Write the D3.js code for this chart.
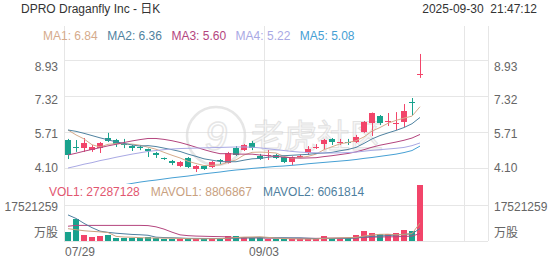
<!DOCTYPE html>
<html>
<head>
<meta charset="utf-8">
<script src="https://cdn.jsdelivr.net/npm/d3@7"></script>
<style>
  body { margin: 0; background: #fff; }
  svg { display: block; font-family: Arial, "Liberation Sans", "Noto Sans CJK SC", sans-serif; }
</style>
</head>
<body>
<div id="chart"></div>
<script>
// daily candles 07/29 .. 09/30
const dates = ["07/29","07/30","07/31","08/01","08/04","08/05","08/06","08/07","08/08","08/11",
  "08/12","08/13","08/14","08/15","08/18","08/19","08/20","08/21","08/22","08/25",
  "08/26","08/27","08/28","08/29","09/02","09/03","09/04","09/05","09/08","09/09",
  "09/10","09/11","09/12","09/15","09/16","09/17","09/18","09/19","09/22","09/23",
  "09/24","09/25","09/26","09/29","09/30"];
const opens = [5.35,5.06,4.99,4.90,4.99,5.44,5.35,5.18,5.08,5.04,4.95,4.77,4.55,4.41,4.19,4.55,4.05,4.19,4.14,4.45,
  4.32,4.99,4.90,5.22,4.64,4.66,4.68,4.59,4.37,4.63,4.77,5.03,5.17,5.40,5.25,5.27,5.26,5.71,6.11,6.43,
  6.18,6.10,6.16,7.03,8.28];
const highs = [5.40,5.35,5.44,5.13,5.26,5.67,5.40,5.40,5.13,5.13,4.97,4.82,4.57,4.46,4.41,4.59,4.23,4.21,4.41,4.50,
  4.82,5.08,5.17,5.31,4.73,4.90,4.73,4.62,4.62,4.70,5.08,5.17,5.40,5.44,5.40,5.40,5.58,6.20,6.58,6.47,
  6.56,6.60,6.96,7.23,9.20];
const lows = [4.50,4.82,4.82,4.82,4.77,5.26,5.04,4.99,4.86,4.90,4.59,4.55,4.46,4.23,4.14,4.10,3.92,4.01,4.10,4.28,
  4.30,4.64,4.86,4.90,4.46,4.46,4.50,4.32,4.23,4.57,4.68,4.95,4.90,5.13,5.13,5.13,5.22,5.67,5.53,6.02,
  5.98,5.80,5.93,6.47,8.13];
const closes = [4.68,5.03,5.22,5.04,5.22,5.31,5.17,5.16,4.99,4.99,4.86,4.68,4.50,4.32,4.37,4.14,4.19,4.05,4.37,4.43,
  4.77,4.68,5.13,4.99,4.50,4.68,4.55,4.37,4.59,4.65,4.95,5.05,5.35,5.26,5.27,5.25,5.49,6.16,6.56,6.11,
  6.20,6.12,6.65,7.01,8.30];
const volumes = [4480000,10650000,2870000,1820000,2410000,2900000,1330000,1280000,1310000,1290000,
  2120000,1300000,1020000,980000,1030000,1310000,990000,1010000,1280000,1000000,
  2620000,2580000,2010000,1620000,1590000,1030000,910000,880000,1000000,1020000,
  990000,1010000,2420000,1610000,1580000,1630000,2880000,5020000,4090000,3180000,
  3230000,3700000,5210000,4790000,27287128];

// moving averages as they appear on the chart
const ma1Values = [5.80,5.58,5.40,5.14,5.04,5.16,5.19,5.18,5.17,5.12,5.03,4.94,4.80,4.67,4.55,4.40,4.30,4.21,4.22,4.24,
  4.36,4.46,4.68,4.80,4.81,4.80,4.77,4.62,4.54,4.57,4.62,4.72,4.92,5.05,5.18,5.24,5.32,5.49,5.75,5.91,
  6.10,6.23,6.33,6.42,6.84];
const ma2Values = [5.80,5.74,5.65,5.55,5.45,5.36,5.27,5.20,5.13,5.08,5.10,5.06,4.99,4.92,4.84,4.72,4.62,4.51,4.45,4.39,
  4.38,4.38,4.45,4.51,4.53,4.58,4.62,4.65,4.67,4.69,4.71,4.75,4.77,4.80,4.87,4.93,5.02,5.20,5.40,5.55,
  5.67,5.78,5.91,6.08,6.36];
const ma3Values = [4.68,4.76,4.85,4.93,5.01,5.09,5.16,5.24,5.31,5.37,5.42,5.42,5.38,5.32,5.24,5.14,5.03,4.92,4.82,4.74,
  4.74,4.72,4.72,4.72,4.68,4.65,4.62,4.58,4.56,4.54,4.55,4.56,4.61,4.65,4.70,4.75,4.82,4.92,5.03,5.12,
  5.19,5.26,5.34,5.44,5.60];
const ma4Values = [4.10,4.18,4.27,4.34,4.43,4.50,4.58,4.65,4.72,4.78,4.84,4.88,4.92,4.95,4.97,4.98,4.99,5.00,5.01,5.02,
  5.03,5.04,5.04,5.03,5.00,4.96,4.92,4.88,4.84,4.81,4.79,4.78,4.77,4.77,4.78,4.79,4.81,4.85,4.89,4.92,
  4.95,4.98,5.02,5.10,5.22];
const ma5Values = [2.90,2.96,3.02,3.08,3.14,3.21,3.28,3.35,3.41,3.47,3.52,3.56,3.61,3.66,3.70,3.74,3.79,3.84,3.88,3.92,
  3.97,4.01,4.04,4.08,4.11,4.14,4.17,4.19,4.22,4.25,4.29,4.32,4.35,4.38,4.41,4.44,4.48,4.53,4.57,4.62,
  4.67,4.72,4.79,4.88,5.08];
const mavol1Values = [6000000,5500000,5000000,4700000,4460000,4140000,2260000,1940000,1840000,1620000,
  1460000,1460000,1400000,1340000,1280000,1120000,1060000,1060000,1120000,1120000,
  1380000,1700000,1900000,1960000,2080000,1760000,1420000,1200000,1080000,960000,
  960000,980000,1280000,1400000,1520000,1640000,1740000,2420000,2920000,3240000,
  3300000,3040000,3260000,3580000,8806867];
const mavol2Values = [12700000,11000000,8600000,6500000,4800000,4200000,3800000,3500000,3200000,3040000,
  2800000,1860000,1670000,1590000,1450000,1290000,1260000,1230000,1230000,1200000,
  1250000,1380000,1480000,1540000,1600000,1570000,1560000,1550000,1520000,1520000,
  1360000,1200000,1240000,1240000,1240000,1300000,1500000,1910000,2220000,2440000,
  2660000,2930000,3210000,3530000,6061814];
const mavol3Values = [7200000,7600000,7600000,7600000,7600000,7600000,7600000,7600000,7600000,7600000,
  7500000,6900000,5800000,4300000,3000000,2600000,2400000,2300000,2200000,2120000,
  2030000,1620000,1580000,1570000,1530000,1430000,1410000,1390000,1380000,1360000,
  1310000,1290000,1360000,1390000,1420000,1440000,1530000,1730000,1870000,1980000,
  2010000,2070000,2230000,2390000,3670000];

const priceTicks = [4.10, 5.71, 7.32, 8.93];
const volumeTicks = [17521259];
const axisDates = ["07/29", "09/03"];

const maNames = ["MA1", "MA2", "MA3", "MA4", "MA5"];
const maLatest = ["6.84", "6.36", "5.60", "5.22", "5.08"];
const volNames = ["VOL1", "MAVOL1", "MAVOL2"];
const volLatest = ["27287128", "8806867", "6061814"];

const upColor = "#f2456a";
const downColor = "#19a28d";
const maColors = ["#d6ab8c", "#4f82a0", "#b4457e", "#a9a9e4", "#46a0d4"];
const volColors = ["#e2566f", "#c9a17f", "#4f7fa0", "#b4457e"];
const gridColor = "#e6e6e6";
const labelColor = "#666";

const width = 552, height = 265;
const left = 64, right = 488;
const totalSlots = 53;   // room for more candles on the right
const gridEvery = 25;

const svg = d3.select("#chart")
  .append("svg")
  .attr("width", width)
  .attr("height", height);

const x = d3.scaleBand()
  .domain(d3.range(totalSlots))
  .range([left, right])
  .paddingInner(0.25)
  .paddingOuter(0.125);
const bw = x.bandwidth();
const cx = i => x(i) + bw / 2;
const slotEdge = i => x(i) - (x.step() - bw) / 2;

const y = d3.scaleLinear().domain([2.49, 10.54]).range([204, 24]);
// tick labels sit a little closer together than the grid lines
const yLabel = d3.scaleLinear().domain([2.49, 10.54]).range([201.3, 32.9]);
const yVol = d3.scaleLinear().domain([0, d3.max(volumes)]).range([241, 185]);

svg.append("defs").append("clipPath")
  .attr("id", "priceClip")
  .append("rect")
  .attr("x", left).attr("y", 24)
  .attr("width", right - left).attr("height", 160);

// ---- grid
const grid = svg.append("g").attr("stroke", gridColor).attr("stroke-width", 1).attr("shape-rendering", "crispEdges");
grid.selectAll(".hp")
  .data(priceTicks)
  .enter().append("line")
  .attr("x1", left).attr("x2", right)
  .attr("y1", d => Math.round(y(d)) + 0.5).attr("y2", d => Math.round(y(d)) + 0.5);
grid.selectAll(".hv")
  .data(volumeTicks.concat([0]))
  .enter().append("line")
  .attr("x1", left).attr("x2", right)
  .attr("y1", d => Math.round(yVol(d)) + 0.5).attr("y2", d => Math.round(yVol(d)) + 0.5);
const vLines = d3.range(0, totalSlots, gridEvery).map(slotEdge).concat([right]);
grid.selectAll(".vl")
  .data(vLines)
  .enter().append("line")
  .attr("x1", d => Math.round(d) + 0.5).attr("x2", d => Math.round(d) + 0.5)
  .attr("y1", 26).attr("y2", yVol(0));

// ---- watermark
const wm = svg.append("g").attr("opacity", 0.6);
wm.append("circle")
  .attr("cx", 216).attr("cy", 136).attr("r", 29)
  .attr("fill", "none").attr("stroke", "#d6d6d6").attr("stroke-width", 2.5);
wm.append("text")
  .attr("x", 216).attr("y", 150)
  .attr("text-anchor", "middle")
  .style("font-size", "40px").style("font-style", "italic")
  .attr("fill", "none").attr("stroke", "#d6d6d6").attr("stroke-width", 1.5)
  .text("9");
wm.append("text")
  .attr("x", 251).attr("y", 148)
  .style("font-size", "33px")
  .style("font-family", "'Noto Sans CJK SC', sans-serif")
  .attr("fill", "#f3f3f3").attr("stroke", "#d0d0d0").attr("stroke-width", 1)
  .text("老虎社区");

// ---- candles
const candles = dates.map((d, i) => ({ i, date: d, o: opens[i], h: highs[i], l: lows[i], c: closes[i], v: volumes[i] }));
const colorOf = d => d.c >= d.o ? upColor : downColor;

const price = svg.append("g").attr("clip-path", "url(#priceClip)");

price.selectAll(".wick")
  .data(candles)
  .enter().append("line")
  .attr("x1", d => cx(d.i) + 0.5).attr("x2", d => cx(d.i) + 0.5)
  .attr("y1", d => y(d.h)).attr("y2", d => y(d.l))
  .attr("stroke", colorOf).attr("stroke-width", 1);

price.selectAll(".body")
  .data(candles)
  .enter().append("rect")
  .attr("x", d => x(d.i))
  .attr("y", d => y(Math.max(d.o, d.c)))
  .attr("width", bw)
  .attr("height", d => Math.max(1, Math.abs(y(d.o) - y(d.c))))
  .attr("fill", colorOf)
  .attr("shape-rendering", "crispEdges");

// MA lines
const maSeries = [ma1Values, ma2Values, ma3Values, ma4Values, ma5Values];
const maLine = d3.line().x((d, i) => cx(i)).y(d => y(d));
price.selectAll(".ma")
  .data(maSeries)
  .enter().append("path")
  .attr("d", maLine)
  .attr("fill", "none")
  .attr("stroke", (d, k) => maColors[k])
  .attr("stroke-width", 1);

// ---- volume
svg.selectAll(".vol")
  .data(candles)
  .enter().append("rect")
  .attr("x", d => x(d.i))
  .attr("y", d => yVol(d.v))
  .attr("width", bw)
  .attr("height", d => yVol(0) - yVol(d.v))
  .attr("fill", colorOf)
  .attr("shape-rendering", "crispEdges");

const volLine = d3.line().x((d, i) => cx(i)).y(d => yVol(d));
svg.selectAll(".mavol")
  .data([mavol3Values, mavol2Values, mavol1Values])
  .enter().append("path")
  .attr("d", volLine)
  .attr("fill", "none")
  .attr("stroke", (d, k) => [volColors[3], volColors[2], volColors[1]][k])
  .attr("stroke-width", 1);

// ---- axis labels
const fmt = d3.format(".2f");
priceTicks.forEach(t => {
  svg.append("text").attr("x", 58).attr("y", yLabel(t)).attr("dy", "0.35em")
    .attr("text-anchor", "end").attr("fill", labelColor).style("font-size", "12px").text(fmt(t));
  svg.append("text").attr("x", 494).attr("y", yLabel(t)).attr("dy", "0.35em")
    .attr("fill", labelColor).style("font-size", "12px").text(fmt(t));
});
volumeTicks.forEach(t => {
  svg.append("text").attr("x", 58).attr("y", yVol(t) + 2).attr("dy", "0.35em")
    .attr("text-anchor", "end").attr("fill", labelColor).style("font-size", "12px").text(t);
  svg.append("text").attr("x", 494).attr("y", yVol(t) + 2).attr("dy", "0.35em")
    .attr("fill", labelColor).style("font-size", "12px").text(t);
});
[[58, "end"], [494, "start"]].forEach(([px, anchor]) => {
  svg.append("text").attr("x", px).attr("y", yVol(0) - 8).attr("dy", "0.35em")
    .attr("text-anchor", anchor).attr("fill", labelColor).style("font-size", "12px").text("万股");
});

axisDates.forEach((d, k) => {
  const i = dates.indexOf(d);
  svg.append("text")
    .attr("x", k === 0 ? slotEdge(i) + 1 : slotEdge(i))
    .attr("y", 256)
    .attr("text-anchor", k === 0 ? "start" : "middle")
    .attr("fill", labelColor).style("font-size", "12px")
    .text(d);
});

// ---- header + legends
svg.append("text").attr("x", 21).attr("y", 13)
  .attr("fill", "#333").style("font-size", "12px").text("DPRO Draganfly Inc - 日K");
svg.append("text").attr("x", 537).attr("y", 13).attr("text-anchor", "end")
  .attr("fill", "#333").style("font-size", "12px").text("2025-09-30  21:47:12").attr("xml:space", "preserve");

function legendRow(names, values, colors, x0, y0, gap) {
  let px = x0;
  names.forEach((n, k) => {
    const t = svg.append("text").attr("x", px).attr("y", y0)
      .attr("fill", colors[k]).style("font-size", "12px")
      .text(`${n}: ${values[k]}`);
    px += t.node().getComputedTextLength() + gap;
  });
}
legendRow(maNames, maLatest, maColors, 43, 40, 9.5);
legendRow(volNames, volLatest, volColors, 49, 196, 11);
</script>
</body>
</html>
